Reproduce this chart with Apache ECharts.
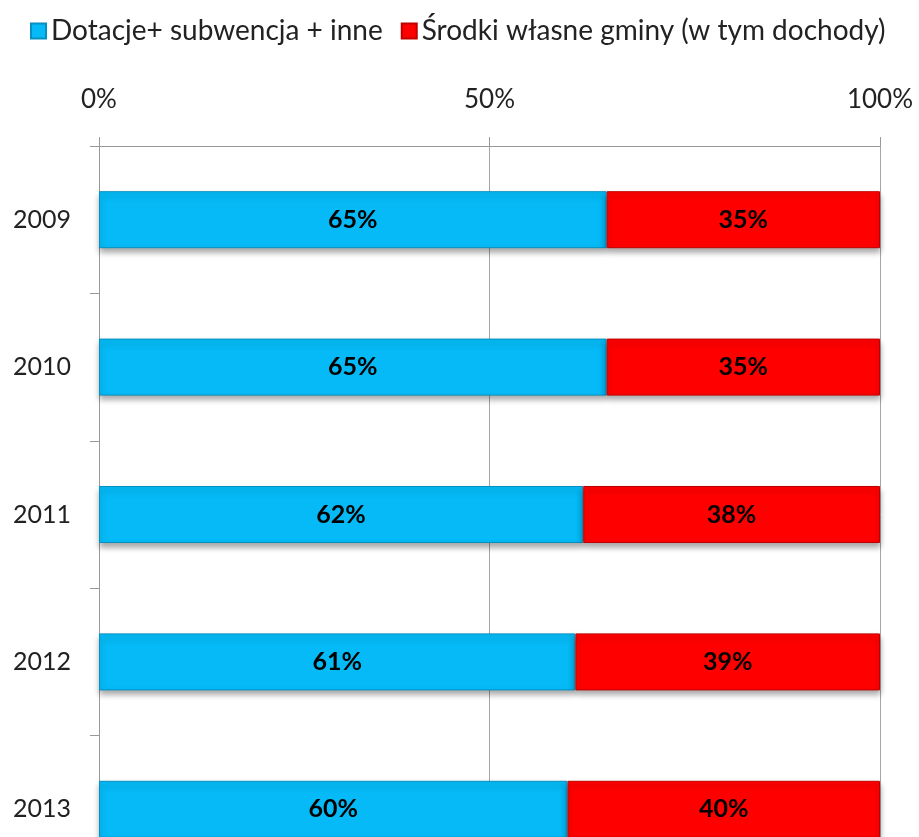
<!DOCTYPE html>
<html>
<head>
<meta charset="utf-8">
<title>Struktura dochodów</title>
<script src="https://cdn.jsdelivr.net/npm/echarts@6/dist/echarts.min.js"></script>
<style>
  html, body { margin: 0; padding: 0; background: #fff; overflow: hidden; }
  /* wykres jest przycięty od dołu, jak w oryginale */
  #chart { width: 919px; height: 883px; }
</style>
</head>
<body>
<div id="chart"></div>
<script>
// lata (od góry)
var years = ['2009', '2010', '2011', '2012', '2013']
// udział w procentach
var dotacje = [65, 65, 62, 61, 60]
var srodkiWlasne = [35, 35, 38, 39, 40]
var seriesNames = ['Dotacje+ subwencja + inne', 'Środki własne gminy (w tym dochody)']
var xTicks = [0, 50, 100]

var font = 'Lato, "Open Sans", sans-serif'
var chart = echarts.init(document.getElementById('chart'))

function barSeries(name, data, color, border) {
  return {
    name: name,
    type: 'bar',
    stack: 'total',
    barWidth: 57,
    data: data,
    itemStyle: {
      color: color,
      borderColor: border,
      borderWidth: 1,
      shadowColor: 'rgba(0, 0, 0, 0.35)',
      shadowBlur: 6,
      shadowOffsetY: 4
    },
    label: {
      show: true,
      position: 'inside',
      formatter: '{c}%',
      color: '#000',
      fontFamily: font,
      fontWeight: 'bold',
      fontSize: 25
    }
  }
}

chart.setOption({
  animation: false,
  textStyle: { fontFamily: font },
  legend: {
    top: 12,
    left: 25,
    itemWidth: 15,
    itemHeight: 15,
    itemGap: 18,
    icon: 'rect',
    textStyle: { fontSize: 28, color: '#222', fontFamily: font },
    data: seriesNames
  },
  grid: {
    left: 99,
    right: 39,
    top: 146,
    bottom: 0
  },
  xAxis: {
    type: 'value',
    position: 'top',
    min: 0,
    max: 100,
    interval: 50,
    axisLine: { show: true, lineStyle: { color: '#999' } },
    axisTick: { show: true, length: 9, lineStyle: { color: '#999' } },
    axisLabel: {
      margin: 33,
      fontSize: 26,
      color: '#222',
      fontFamily: font,
      formatter: function (v) {
        return xTicks.indexOf(v) >= 0 ? v + '%' : ''
      }
    },
    splitLine: { show: true, lineStyle: { color: '#a6a6a6' } }
  },
  yAxis: {
    type: 'category',
    inverse: true,
    data: years,
    axisLine: { show: true, lineStyle: { color: '#999' } },
    axisTick: { show: true, length: 9, lineStyle: { color: '#999' } },
    axisLabel: { margin: 28, fontSize: 25, color: '#222', fontFamily: font }
  },
  series: [
    barSeries(seriesNames[0], dotacje, '#05BAF6', '#0590C0'),
    barSeries(seriesNames[1], srodkiWlasne, '#FF0000', '#C00000')
  ]
})
</script>
</body>
</html>
